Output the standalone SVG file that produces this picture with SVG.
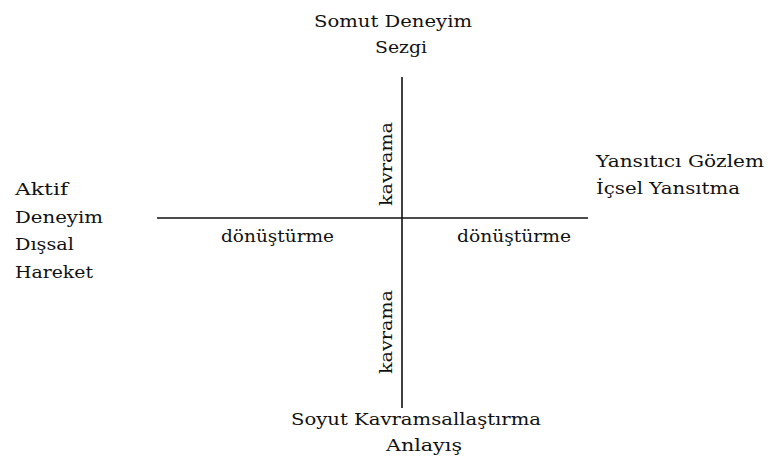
<svg xmlns="http://www.w3.org/2000/svg" width="770" height="466" viewBox="0 0 770 466">
<style>
text{font-family:"DejaVu Serif","Liberation Serif",serif;font-size:16px;fill:#111}
.ax{stroke:#111;stroke-width:1.6;fill:none}
</style>
<rect width="770" height="466" fill="#fff"/>
<g id="connectors">
<line class="ax" x1="402" y1="77" x2="402" y2="408"/>
<line class="ax" x1="157" y1="218" x2="588" y2="218"/>
</g>
<g id="top"><text x="314" y="27" textLength="158" lengthAdjust="spacingAndGlyphs">Somut Deneyim</text><text x="375" y="53" textLength="52" lengthAdjust="spacingAndGlyphs">Sezgi</text></g>
<g id="left"><text x="15" y="195" textLength="53" lengthAdjust="spacingAndGlyphs">Aktif</text><text x="15" y="223" textLength="88" lengthAdjust="spacingAndGlyphs">Deneyim</text><text x="15" y="250" textLength="59" lengthAdjust="spacingAndGlyphs">Dışsal</text><text x="15" y="278" textLength="78" lengthAdjust="spacingAndGlyphs">Hareket</text></g>
<g id="right"><text x="596" y="167" textLength="168" lengthAdjust="spacingAndGlyphs">Yansıtıcı Gözlem</text><text x="596" y="194" textLength="144" lengthAdjust="spacingAndGlyphs">İçsel Yansıtma</text></g>
<g id="bottom"><text x="291" y="425" textLength="250" lengthAdjust="spacingAndGlyphs">Soyut Kavramsallaştırma</text><text x="386" y="451" textLength="76" lengthAdjust="spacingAndGlyphs">Anlayış</text></g>
<g id="labels">
<text x="221" y="242" textLength="113" lengthAdjust="spacingAndGlyphs">dönüştürme</text>
<text x="457" y="242" textLength="114" lengthAdjust="spacingAndGlyphs">dönüştürme</text>
<text transform="translate(392,206) rotate(-90)" textLength="84" lengthAdjust="spacingAndGlyphs">kavrama</text>
<text transform="translate(392,374) rotate(-90)" textLength="84" lengthAdjust="spacingAndGlyphs">kavrama</text>
</g>
</svg>
